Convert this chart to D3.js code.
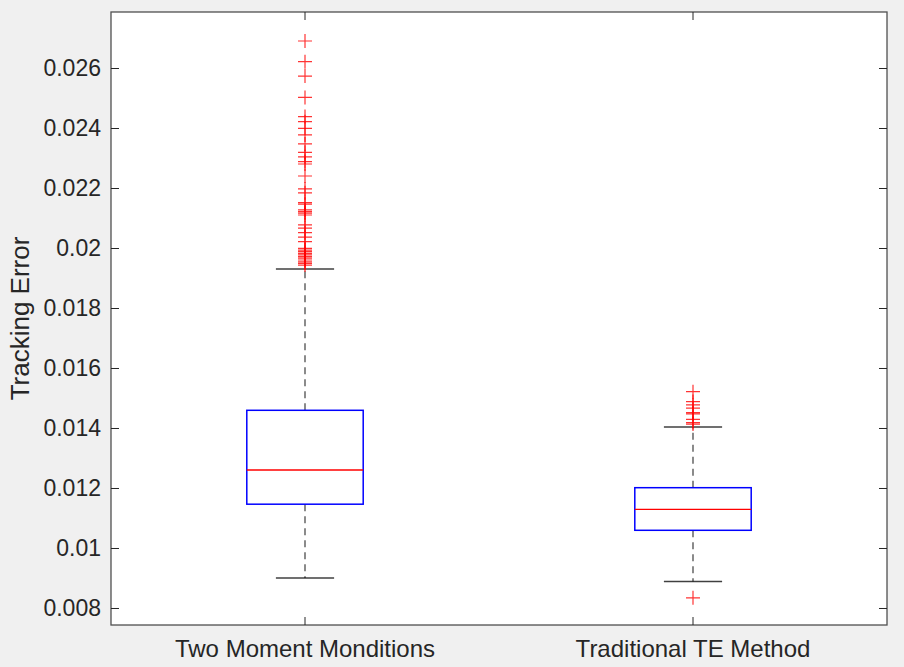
<!DOCTYPE html>
<html>
<head>
<meta charset="utf-8">
<script src="https://cdn.jsdelivr.net/npm/d3@7"></script>
<style>
  html, body { margin: 0; padding: 0; background: #f0f0f0; }
  svg { display: block; }
</style>
</head>
<body>
<svg id="chart"></svg>
<script>
// categories and box statistics
const categories = ['Two Moment Monditions', 'Traditional TE Method']
const whiskerLow = [0.00900, 0.00888]
const q1 = [0.01146, 0.01059]
const median = [0.01260, 0.01129]
const q3 = [0.01459, 0.01201]
const whiskerHigh = [0.01930, 0.01403]

const outliersA = [0.0269, 0.02621, 0.02573, 0.02502, 0.02438, 0.02421, 0.02399, 0.02377,
    0.02347, 0.02319, 0.02304, 0.02288, 0.0228, 0.0224, 0.02197, 0.02184, 0.02151, 0.02146,
    0.02127, 0.02121, 0.02116, 0.0211, 0.02077, 0.02066, 0.02051, 0.02036, 0.02021, 0.01999,
    0.01993, 0.01988, 0.01982, 0.01977, 0.01971, 0.01966, 0.0196, 0.01954, 0.01949, 0.01943]
const outliersB = [0.01521, 0.01488, 0.01477, 0.01466, 0.01451, 0.01447, 0.01429, 0.01418,
    0.01413, 0.00834]

const yTicks = [0.008, 0.010, 0.012, 0.014, 0.016, 0.018, 0.020, 0.022, 0.024, 0.026]
const yDomain = [0.007433, 0.027867]
const yLabel = 'Tracking Error'

const data = categories.map((c, i) => ({
    label: c,
    lo: whiskerLow[i], q1: q1[i], med: median[i], q3: q3[i], hi: whiskerHigh[i],
    out: i === 0 ? outliersA : outliersB
}))

// setting up container
    const width = 904
    const height = 667
    const m = {left: 111, right: 887, top: 12, bottom: 625}
    const axisColor = '#262626'
    const font = '"Liberation Sans", Arial, Helvetica, sans-serif'

    const svg = d3.select('#chart')
        .attr('width', width)
        .attr('height', height)
        .style('background', '#f0f0f0')

    svg.append('rect')
        .attr('x', m.left).attr('y', m.top)
        .attr('width', m.right - m.left).attr('height', m.bottom - m.top)
        .attr('fill', 'white')

// set up scales
    const xScale = d3.scaleBand()
        .domain(categories)
        .range([m.left, m.right])
        .padding(0)
    const yScale = d3.scaleLinear()
        .domain(yDomain)
        .range([m.bottom, m.top])

    const cx = d => xScale(d.label) + xScale.bandwidth() / 2
    const boxW = xScale.bandwidth() * 0.3
    const capW = boxW / 2

// draw boxes
    const boxes = svg.append('g').selectAll('.box')
        .data(data)
        .enter()
        .append('g')
        .attr('class', 'box')

    // dashed whiskers
    boxes.append('line')
        .attr('x1', cx).attr('x2', cx)
        .attr('y1', d => yScale(d.q3)).attr('y2', d => yScale(d.hi))
        .attr('stroke', '#000').attr('stroke-opacity', 0.7)
        .attr('stroke-width', 1.3).attr('stroke-dasharray', '7,5')
    boxes.append('line')
        .attr('x1', cx).attr('x2', cx)
        .attr('y1', d => yScale(d.q1)).attr('y2', d => yScale(d.lo))
        .attr('stroke', '#000').attr('stroke-opacity', 0.7)
        .attr('stroke-width', 1.3).attr('stroke-dasharray', '7,5')

    // whisker caps
    boxes.selectAll('.cap')
        .data(d => [d.lo, d.hi].map(v => ({x: cx(d), v})))
        .enter()
        .append('line')
            .attr('x1', d => d.x - capW / 2).attr('x2', d => d.x + capW / 2)
            .attr('y1', d => yScale(d.v)).attr('y2', d => yScale(d.v))
            .attr('stroke', '#000').attr('stroke-opacity', 0.75)
            .attr('stroke-width', 1.5)

    // box
    boxes.append('rect')
        .attr('x', d => cx(d) - boxW / 2)
        .attr('y', d => yScale(d.q3))
        .attr('width', boxW)
        .attr('height', d => yScale(d.q1) - yScale(d.q3))
        .attr('fill', 'none')
        .attr('stroke', '#0000ff')
        .attr('stroke-width', 1.5)

    // median
    boxes.append('line')
        .attr('x1', d => cx(d) - boxW / 2).attr('x2', d => cx(d) + boxW / 2)
        .attr('y1', d => yScale(d.med)).attr('y2', d => yScale(d.med))
        .attr('stroke', '#ff0000')
        .attr('stroke-width', 1.3)

    // outliers as '+'
    const ps = 7
    boxes.selectAll('.outlier')
        .data(d => d.out.map(v => ({x: cx(d), v})))
        .enter()
        .append('path')
            .attr('d', d => {
                const x = d.x, y = yScale(d.v)
                return `M${x - ps},${y}H${x + ps}M${x},${y - ps}V${y + ps}`
            })
            .attr('fill', 'none')
            .attr('stroke', '#ff0000')
            .attr('stroke-opacity', 0.8)
            .attr('stroke-width', 1.2)

// set up axes (inward ticks on all four sides, like matlab)
    const yAxis = d3.axisLeft(yScale)
        .tickValues(yTicks)
        .tickFormat(d3.format('~g'))
        .tickSizeInner(-8)
        .tickSizeOuter(0)
        .tickPadding(10)
    const yAxisRight = d3.axisRight(yScale)
        .tickValues(yTicks)
        .tickSizeInner(-8)
        .tickSizeOuter(0)
        .tickFormat('')
    const xAxis = d3.axisBottom(xScale)
        .tickSizeInner(-8)
        .tickSizeOuter(0)
        .tickPadding(15)
    const xAxisTop = d3.axisTop(xScale)
        .tickSizeInner(-8)
        .tickSizeOuter(0)
        .tickFormat('')

    const gy = svg.append('g')
        .attr('transform', `translate(${m.left}, 0)`)
        .call(yAxis)
    svg.append('g')
        .attr('transform', `translate(${m.right}, 0)`)
        .call(yAxisRight)
    const gx = svg.append('g')
        .attr('transform', `translate(0, ${m.bottom})`)
        .call(xAxis)
    svg.append('g')
        .attr('transform', `translate(0, ${m.top})`)
        .call(xAxisTop)

    svg.selectAll('.domain').remove()
    svg.selectAll('.tick line')
        .attr('stroke', axisColor)
        .attr('stroke-width', 1)

    gy.selectAll('text')
        .style('font-family', font)
        .style('font-size', '23px')
        .attr('fill', axisColor)
    gx.selectAll('text')
        .style('font-family', font)
        .style('font-size', '24px')
        .attr('fill', axisColor)

    // frame
    svg.append('rect')
        .attr('x', m.left).attr('y', m.top)
        .attr('width', m.right - m.left).attr('height', m.bottom - m.top)
        .attr('fill', 'none')
        .attr('stroke', axisColor)
        .attr('stroke-opacity', 0.8)
        .attr('stroke-width', 1.3)

    // y label
    svg.append('text')
        .attr('transform', `translate(29, ${(m.top + m.bottom) / 2}) rotate(-90)`)
        .attr('text-anchor', 'middle')
        .style('font-family', font)
        .style('font-size', '26px')
        .attr('fill', axisColor)
        .text(yLabel)
</script>
</body>
</html>
